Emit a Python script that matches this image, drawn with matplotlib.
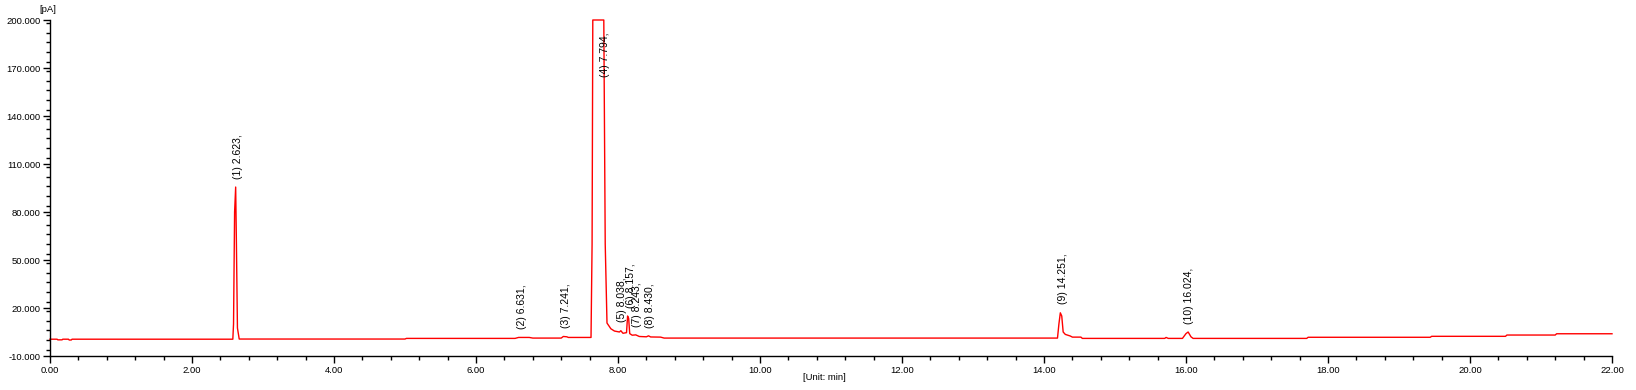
import numpy as np
import matplotlib
matplotlib.use("Agg")
import matplotlib.pyplot as plt
from matplotlib.ticker import MultipleLocator, FormatStrFormatter

# ---------- Data ----------
# trace breakpoints: time [min], signal [pA]
time_min = [
    0.00, 0.10, 0.11, 0.17, 0.18, 0.26, 0.27, 0.30, 0.31, 2.575,
    2.585, 2.600, 2.615, 2.625, 2.640, 2.665, 5.00, 5.02, 6.55, 6.60,
    6.75, 6.80, 7.20, 7.23, 7.28, 7.30, 7.62, 7.635, 7.645, 7.80,
    7.82, 7.845, 7.90, 7.95, 8.02, 8.04, 8.07, 8.12, 8.135, 8.15,
    8.165, 8.20, 8.25, 8.30, 8.40, 8.43, 8.46, 8.60, 8.65, 14.19,
    14.21, 14.23, 14.25, 14.27, 14.30, 14.37, 14.40, 14.52, 14.54, 15.70,
    15.72, 15.75, 15.95, 16.00, 16.03, 16.07, 16.10, 17.70, 17.72, 19.44,
    19.46, 20.50, 20.52, 21.20, 21.21, 21.22, 22.00,
]
signal_pa = [
    0.5, 0.5, 0.1, 0.1, 0.5, 0.5, 0.0, 0.0, 0.5, 0.5,
    10.0, 80.0, 95.6, 62.0, 7.5, 0.6, 0.6, 1.0, 1.0, 1.6,
    1.6, 1.2, 1.2, 2.2, 2.0, 1.6, 1.6, 60.0, 200.0, 200.0,
    60.0, 10.6, 7.0, 5.6, 5.0, 5.8, 4.2, 4.6, 15.0, 13.5,
    4.0, 3.0, 3.2, 2.2, 2.0, 2.6, 1.9, 1.8, 1.2, 1.2,
    10.0, 17.0, 15.0, 5.0, 3.5, 2.5, 1.8, 1.8, 1.0, 1.0,
    1.6, 1.0, 1.0, 4.0, 5.0, 2.0, 1.0, 1.0, 1.7, 1.7,
    2.3, 2.3, 3.1, 3.1, 3.5, 3.9, 3.9,
]

# integrated peaks: label, retention time, apex height
peak_labels = ["(1) 2.623,", "(2) 6.631,", "(3) 7.241,", "(4) 7.794,", "(5) 8.038,",
               "(6) 8.157,", "(7) 8.243,", "(8) 8.430,", "(9) 14.251,", "(10) 16.024,"]
peak_rt = [2.623, 6.631, 7.241, 7.794, 8.038, 8.157, 8.243, 8.430, 14.251, 16.024]
peak_height = [95.6, 1.6, 2.2, 200.0, 5.8, 15.0, 3.2, 2.6, 17.0, 5.0]

# ---------- Figure ----------
W, H, DPI = 1636, 390, 100
fig = plt.figure(figsize=(W / DPI, H / DPI), dpi=DPI)
ax = fig.add_axes([50 / W, 34 / H, (1612 - 50) / W, (356 - 20) / H])

ax.plot(time_min, signal_pa, color="#ff0000", lw=1.0, clip_on=False)

ax.set_xlim(0, 22)
ax.set_ylim(-10, 200)
ax.xaxis.set_major_locator(MultipleLocator(2))
ax.xaxis.set_minor_locator(MultipleLocator(0.4))
ax.yaxis.set_major_locator(MultipleLocator(30))
ax.yaxis.set_minor_locator(MultipleLocator(6))
ax.yaxis.set_major_formatter(FormatStrFormatter("%.3f"))
ax.xaxis.set_major_formatter(FormatStrFormatter("%.2f"))
ax.set_yticks(np.arange(-10, 201, 30))

for s in ["top", "right"]:
    ax.spines[s].set_visible(False)
for s in ["left", "bottom"]:
    ax.spines[s].set_linewidth(1.0)
    ax.spines[s].set_color("black")

ax.tick_params(which="major", direction="out", length=5, width=1.0,
               labelsize=6.8, pad=2)
ax.tick_params(which="minor", direction="out", length=3, width=1.0)
for lab in ax.get_xticklabels() + ax.get_yticklabels():
    lab.set_family("Liberation Sans")

# peak annotations
for lab, rt, h in zip(peak_labels, peak_rt, peak_height):
    if h >= 200:
        ax.text(rt + 0.02, 192, lab, rotation=90, ha="center", va="top",
                fontsize=7.5, family="Liberation Sans")
    else:
        ax.annotate(lab, (rt + 0.02, h), xytext=(0, 6), textcoords="offset points",
                    rotation=90, ha="center", va="bottom",
                    fontsize=7.5, family="Liberation Sans")

fig.text(48 / W, 1 - 9 / H, "[pA]", ha="center", va="center",
         fontsize=6.8, family="Liberation Sans")
fig.text(824 / W, 1 - 378 / H, "[Unit: min]", ha="center", va="center",
         fontsize=6.8, family="Liberation Sans")

fig.savefig("out.png", dpi=DPI)
